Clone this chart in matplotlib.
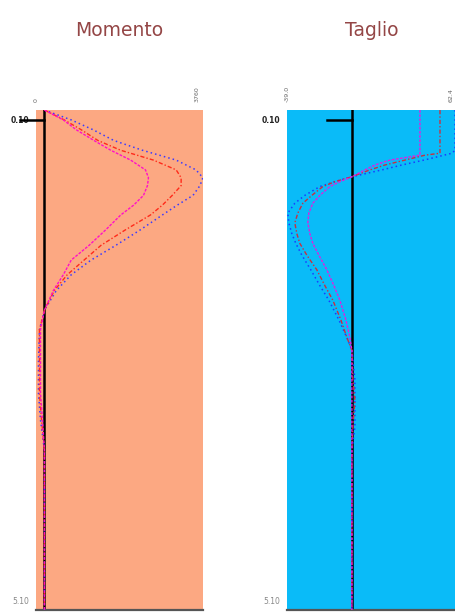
import numpy as np
import matplotlib
matplotlib.use("Agg")
import matplotlib.pyplot as plt

# profondità (m) - diagramma momento
z_m = [0, 0.10, 0.20, 0.31, 0.41, 0.51, 0.61, 0.69, 0.77, 0.87, 0.97, 1.07,
       1.22, 1.38, 1.53, 1.68, 1.84, 2.04, 2.24, 2.55, 2.89, 3.16, 3.47, 3.98, 5.10]
mom_blu = [0, 635, 1151, 1645, 2326, 3125, 3596, 3760, 3690, 3525, 3149, 2797,
           2280, 1692, 1105, 635, 282, 0, -118, -141, -141, -94, 0, 0, 0]
mom_rosso = [0, 470, 870, 1269, 1810, 2585, 3126, 3243, 3243, 3032, 2797, 2515,
             1927, 1340, 940, 540, 235, 0, -118, -118, -118, -70, 0, 0, 0]
mom_magenta = [0, 447, 752, 1175, 1575, 2045, 2397, 2468, 2444, 2350, 2115, 1810,
               1457, 1058, 635, 447, 212, 0, -94, -94, -94, -47, 0, 0, 0]

# profondità (m) - diagramma taglio
z_t = [0, 0.20, 0.41, 0.44, 0.46, 0.51, 0.56, 0.61, 0.68, 0.73, 0.78, 0.87,
       0.95, 1.05, 1.15, 1.26, 1.36, 1.48, 1.63, 1.79, 1.94, 2.14, 2.32, 2.45,
       2.75, 2.96, 3.23, 3.47, 5.10]
tag_blu = [61.8, 61.8, 61.8, 60, 55.2, 43.2, 30, 18, 0, -10.2, -19.2, -28.2,
           -34.2, -38.4, -37.8, -36, -33.6, -30, -24.6, -19.2, -13.8, -7.8, -3,
           0, 1.8, 1.8, 1.8, 0, 0]
tag_rosso = [52.8, 52.8, 52.8, 52.8, 43.8, 31.8, 19.8, 10.8, 0, -10.2, -17.4, -24,
             -29.4, -32.4, -34.2, -33, -31.2, -27, -21, -16.2, -11.4, -6.6, -3,
             0, 0.6, 1.8, 0.6, 0, 0]
tag_magenta = [40.8, 40.8, 40.8, 40.8, 40.8, 22.8, 13.8, 7.8, 0, -7.2, -13.2, -19.2,
               -23.4, -25.8, -26.4, -25.2, -23.4, -19.8, -15.0, -10.8, -7.2, -3.6,
               -1.2, 0, 0, 0, 0, 0, 0]

z_max = 5.10
lim_m = (-165, 3760)
lim_t = (-39.0, 62.4)

fig = plt.figure(figsize=(4.56, 6.15), dpi=100)
ax1 = fig.add_axes([0.079, 0.008, 0.366, 0.813])
ax2 = fig.add_axes([0.629, 0.008, 0.371, 0.813])

pannelli = [
    (ax1, z_m, mom_blu, mom_rosso, mom_magenta, lim_m, '#fca882', 'Momento', 587,
     ['#3a3aff', '#ff2a1a', '#ff10c8'], ['0', '3760'], [-200, 3620]),
    (ax2, z_t, tag_blu, tag_rosso, tag_magenta, lim_t, '#0abbf8', 'Taglio', 15,
     ['#1a3cff', '#c83040', '#e020e0'], ['-39.0', '62.4'], [-39.0, 59.5]),
]

for ax, z, b, r, m, lim, fondo, titolo, seg, col, xl, xt in pannelli:
    ax.set_facecolor(fondo)
    ax.axvline(0, color='black', lw=1.8, zorder=2)
    ax.plot([-seg, 0], [0.10, 0.10], color='black', lw=1.8, clip_on=False, zorder=2)
    ax.plot(b, z, color=col[0], lw=1.1, ls=(0, (1, 2)), zorder=3)
    ax.plot(r, z, color=col[1], lw=1.0, ls=(0, (3, 1.5, 1, 1.5)), zorder=3)
    ax.plot(m, z, color=col[2], lw=1.0, ls=(0, (2, 1)), zorder=4)
    ax.set_xlim(*lim)
    ax.set_ylim(z_max, 0)
    for s in ['top', 'right', 'left']:
        ax.spines[s].set_visible(False)
    ax.spines['bottom'].set_color('#555555')
    ax.spines['bottom'].set_linewidth(1.6)
    ax.xaxis.tick_top()
    ax.set_xticks(xt)
    ax.set_xticklabels(xl, rotation=90, fontsize=4.5, color='#666666')
    ax.tick_params(axis='x', length=0, pad=6)
    ax.set_yticks([0.10, 5.0])
    ax.set_yticklabels(['0.10', '5.10'], fontsize=5.5)
    ax.get_yticklabels()[0].set_color('#222222')
    ax.get_yticklabels()[0].set_fontweight('bold')
    ax.get_yticklabels()[1].set_color('#888888')
    ax.tick_params(axis='y', length=0, pad=5)
    ax.set_title(titolo, fontsize=13.5, color='#944646', pad=53)

fig.savefig('out.png', dpi=100)
